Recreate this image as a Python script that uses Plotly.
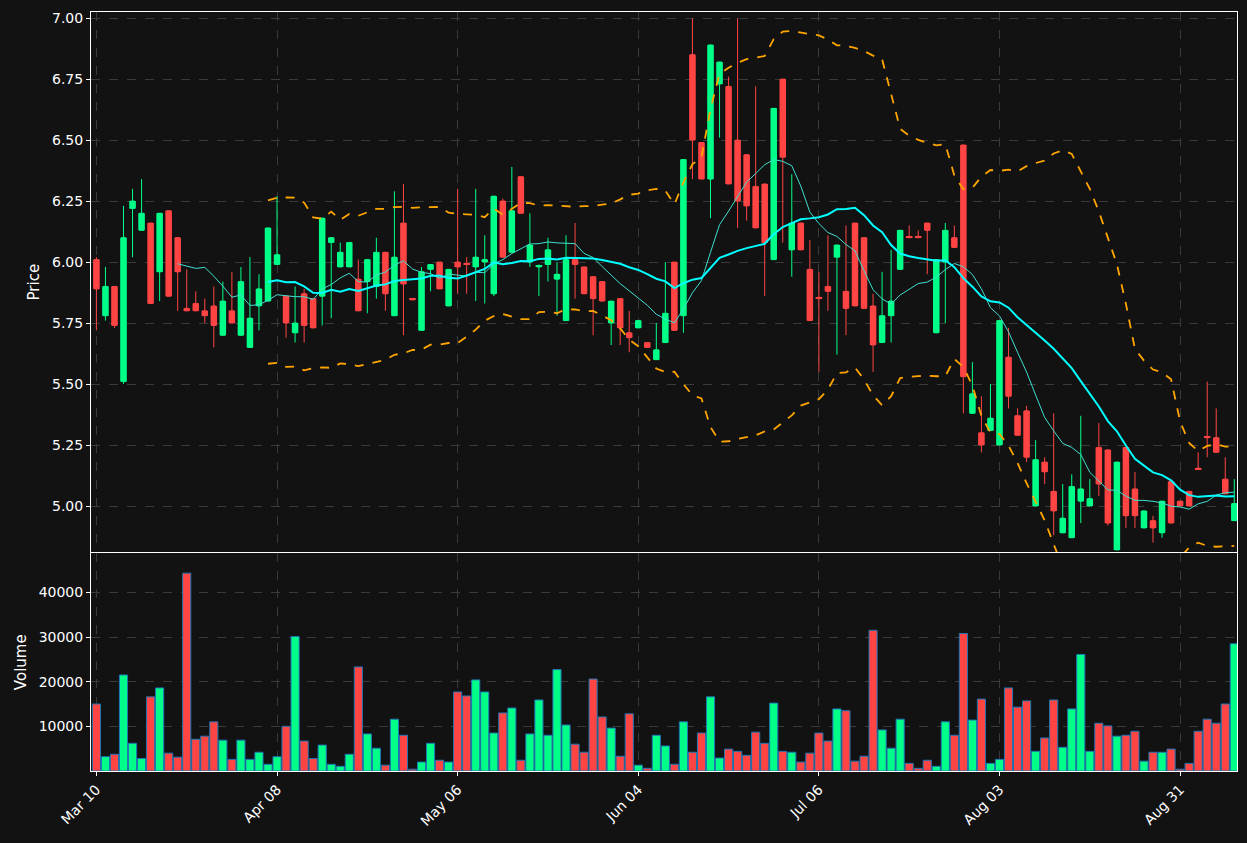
import plotly.graph_objects as go
from plotly.subplots import make_subplots
import pandas as pd

# OHLC, one entry per trading bar
opens = [6.01, 5.78, 5.90, 5.51, 6.22, 6.13, 6.16, 5.96, 6.21, 6.10,
         5.81, 5.83, 5.80, 5.82, 5.70, 5.80, 5.70, 5.65, 5.82, 5.84,
         5.99, 5.86, 5.71, 5.87, 5.85, 5.86, 6.08, 5.98, 5.98, 5.93,
         5.92, 5.90, 6.04, 5.78, 6.16, 5.85, 5.72, 5.97, 6.00, 5.82,
         6.00, 5.995, 5.98, 6.00, 5.87, 6.25, 6.04, 6.35, 6.00, 5.98,
         5.99, 5.93, 5.76, 6.01, 5.98, 5.94, 5.92, 5.75, 5.85, 5.71,
         5.73, 5.67, 5.60, 5.67, 6.00, 5.78, 6.85, 6.49, 6.34, 6.73,
         6.72, 6.50, 6.44, 6.31, 6.32, 6.01, 6.75, 6.05, 6.16, 5.97,
         5.855, 5.90, 6.02, 5.88, 6.16, 6.10, 5.82, 5.67, 5.78, 5.97,
         6.105, 6.105, 6.16, 5.71, 6.00, 6.10, 6.48, 5.38, 5.30, 5.31,
         5.25, 5.61, 5.37, 5.39, 5.00, 5.18, 5.06, 4.89, 4.87, 5.02,
         5.00, 5.24, 5.23, 4.82, 5.24, 5.07, 4.91, 4.94, 4.89, 5.10,
         5.02, 5.06, 5.155, 5.285, 5.28, 5.11, 4.94]
highs = [6.02, 5.98, 5.90, 6.23, 6.30, 6.34, 6.16, 6.20, 6.21, 6.10,
         5.97, 5.88, 5.85, 5.90, 5.92, 5.96, 5.98, 6.02, 5.95, 6.14,
         6.27, 5.86, 5.90, 5.89, 5.85, 6.18, 6.10, 6.08, 6.08, 6.01,
         6.01, 6.10, 6.04, 6.29, 6.32, 5.85, 5.98, 5.99, 6.00, 5.97,
         6.30, 6.02, 6.30, 6.11, 6.27, 6.26, 6.39, 6.35, 6.20, 5.99,
         6.10, 6.00, 6.11, 6.16, 5.98, 5.94, 5.92, 5.84, 5.85, 5.80,
         5.76, 5.67, 5.75, 6.00, 6.00, 6.42, 7.00, 6.49, 6.89, 6.82,
         6.76, 7.00, 6.44, 6.72, 6.32, 6.63, 6.75, 6.36, 6.16, 6.09,
         5.96, 6.11, 6.07, 6.15, 6.16, 6.10, 5.87, 5.96, 6.05, 6.13,
         6.15, 6.13, 6.16, 6.01, 6.16, 6.15, 6.48, 5.59, 5.45, 5.50,
         5.76, 5.73, 5.40, 5.41, 5.27, 5.20, 5.38, 5.09, 5.13, 5.37,
         5.11, 5.34, 5.23, 5.18, 5.24, 5.14, 4.98, 4.96, 5.02, 5.10,
         5.02, 5.06, 5.22, 5.51, 5.40, 5.20, 5.11]
lows = [5.72, 5.76, 5.73, 5.50, 6.02, 6.13, 5.83, 5.84, 5.86, 5.80,
        5.80, 5.80, 5.75, 5.65, 5.70, 5.75, 5.70, 5.65, 5.72, 5.84,
        5.99, 5.69, 5.67, 5.67, 5.73, 5.74, 5.77, 5.98, 5.98, 5.80,
        5.79, 5.85, 5.80, 5.78, 5.70, 5.845, 5.72, 5.88, 5.89, 5.82,
        5.87, 5.87, 5.84, 5.83, 5.86, 6.02, 6.04, 6.20, 5.98, 5.86,
        5.92, 5.78, 5.76, 5.85, 5.87, 5.70, 5.84, 5.66, 5.66, 5.63,
        5.73, 5.65, 5.60, 5.67, 5.72, 5.71, 6.34, 6.34, 6.18, 6.51,
        6.32, 6.14, 6.17, 6.14, 5.86, 6.01, 6.08, 5.94, 6.05, 5.76,
        5.55, 5.80, 5.62, 5.70, 5.82, 5.81, 5.55, 5.67, 5.67, 5.97,
        6.10, 6.10, 5.95, 5.71, 5.75, 6.06, 5.38, 5.38, 5.22, 5.31,
        5.25, 5.40, 5.29, 5.18, 5.00, 5.09, 4.88, 4.89, 4.87, 4.93,
        5.00, 5.04, 4.92, 4.82, 4.91, 4.91, 4.91, 4.85, 4.87, 4.93,
        5.00, 5.00, 5.15, 5.20, 5.22, 5.05, 4.94]
closes = [5.89, 5.90, 5.74, 6.10, 6.25, 6.20, 5.83, 6.20, 5.86, 5.96,
          5.80, 5.80, 5.78, 5.74, 5.84, 5.75, 5.92, 5.77, 5.89, 6.14,
          6.03, 5.75, 5.75, 5.74, 5.73, 6.18, 6.10, 6.04, 6.08, 5.80,
          6.01, 6.04, 5.87, 6.02, 5.91, 5.845, 5.96, 5.99, 5.89, 5.97,
          5.98, 5.99, 6.02, 6.01, 6.27, 6.02, 6.21, 6.20, 6.07, 5.985,
          6.05, 5.95, 6.01, 5.99, 5.87, 5.85, 5.84, 5.84, 5.73, 5.69,
          5.76, 5.65, 5.64, 5.79, 5.72, 6.42, 6.50, 6.34, 6.89, 6.82,
          6.32, 6.25, 6.23, 6.14, 6.08, 6.63, 6.43, 6.16, 6.05, 5.76,
          5.85, 5.88, 6.07, 5.81, 5.82, 5.81, 5.66, 5.78, 5.84, 6.13,
          6.10, 6.10, 6.13, 6.01, 6.13, 6.06, 5.53, 5.46, 5.25, 5.36,
          5.76, 5.45, 5.29, 5.20, 5.19, 5.14, 4.98, 4.95, 5.08, 5.07,
          5.03, 5.09, 4.93, 5.18, 4.96, 4.96, 4.98, 4.91, 5.02, 4.93,
          5.00, 5.00, 5.15, 5.28, 5.22, 5.05, 5.01]
volumes = [15000, 3200, 3750, 21500, 6200, 2800, 16600, 18600, 4000, 3100,
           44300, 7100, 7800, 11000, 6900, 2600, 6900, 2600, 4200, 1500,
           3200, 10000, 30100, 6700, 2800, 5800, 1500, 1050, 3750, 23300,
           8300, 5100, 1300, 11600, 8000, 400, 2000, 6200, 2400, 2000,
           17700, 16800, 20400, 17700, 8500, 13000, 14100, 2400, 8300, 15900,
           8000, 22700, 10300, 6000, 4200, 20600, 12100, 9600, 3300, 12800,
           1300, 600, 8000, 5600, 1500, 11000, 4200, 8500, 16600, 2900,
           4900, 4400, 3500, 8700, 6200, 15200, 4400, 4200, 2000, 4000,
           8500, 6700, 13900, 13500, 2200, 3300, 31500, 9200, 5100, 11600,
           1700, 600, 2400, 1050, 11000, 8000, 30800, 11400, 16100, 1700,
           2600, 18600, 14300, 15700, 4400, 7400, 15900, 5300, 13900, 26100,
           4400, 10700, 10100, 7800, 8000, 8900, 2200, 4200, 4200, 4900,
           400, 1700, 8900, 11600, 10700, 15000, 28500]

tick_pos = [0, 20, 40, 60, 80, 100, 120]
tick_labels = ["Mar 10", "Apr 08", "May 06", "Jun 04", "Jul 06", "Aug 03", "Aug 31"]

UP = "#00ff88"
DOWN = "#ff4444"
BG = "#121212"
GRID = "#3a3a3a"

df = pd.DataFrame({"open": opens, "high": highs, "low": lows,
                   "close": closes, "volume": volumes})
df["x"] = range(len(df))
df["ma10"] = df["close"].rolling(10).mean()
df["ma20"] = df["close"].rolling(20).mean()
std20 = df["close"].rolling(20).std()
df["bb_up"] = df["ma20"] + 2 * std20
df["bb_lo"] = df["ma20"] - 2 * std20
colors = [UP if c >= o else DOWN for o, c in zip(df["open"], df["close"])]

# body drawn as a bar from min(open, close) to max(open, close)
body_base = [min(o, c) for o, c in zip(df["open"], df["close"])]
body_len = [abs(c - o) for o, c in zip(df["open"], df["close"])]

fig = make_subplots(rows=2, cols=1, shared_xaxes=True,
                    row_heights=[0.713, 0.287], vertical_spacing=0.0015)

fig.add_trace(go.Candlestick(
    x=df["x"], open=df["open"], high=df["high"], low=df["low"], close=df["close"],
    increasing=dict(line=dict(color=UP, width=1), fillcolor=UP),
    decreasing=dict(line=dict(color=DOWN, width=1), fillcolor=DOWN),
    whiskerwidth=0, showlegend=False), row=1, col=1)
fig.add_trace(go.Bar(x=df["x"], y=body_len, base=body_base, width=0.72,
                     marker=dict(color=colors, line=dict(width=0)),
                     showlegend=False, hoverinfo="skip"), row=1, col=1)

fig.add_trace(go.Scatter(x=df["x"], y=df["bb_up"], mode="lines",
                         line=dict(color="orange", width=1.8, dash="dash"),
                         showlegend=False, hoverinfo="skip"), row=1, col=1)
fig.add_trace(go.Scatter(x=df["x"], y=df["bb_lo"], mode="lines",
                         line=dict(color="orange", width=1.8, dash="dash"),
                         showlegend=False, hoverinfo="skip"), row=1, col=1)
fig.add_trace(go.Scatter(x=df["x"], y=df["ma10"], mode="lines",
                         line=dict(color="#40e0d0", width=1),
                         showlegend=False), row=1, col=1)
fig.add_trace(go.Scatter(x=df["x"], y=df["ma20"], mode="lines",
                         line=dict(color="#00ffff", width=2),
                         showlegend=False), row=1, col=1)

fig.add_trace(go.Bar(x=df["x"], y=df["volume"],
                     marker=dict(color=colors, line=dict(color="#1f77b4", width=1)),
                     width=0.9, showlegend=False), row=2, col=1)

axis_common = dict(showgrid=True, gridcolor=GRID, griddash="dash", gridwidth=1,
                   showline=True, linecolor="white", linewidth=1, mirror=True,
                   zeroline=False, tickfont=dict(color="white", size=14,
                                                 family="DejaVu Sans"))

fig.update_xaxes(**axis_common, range=[-0.6, 126.3], tickvals=tick_pos,
                 ticktext=tick_labels, rangeslider_visible=False)
fig.update_xaxes(showticklabels=False, ticks="", row=1, col=1)
fig.update_xaxes(tickangle=-45, ticks="outside", tickcolor="white", ticklen=4,
                 row=2, col=1)

fig.update_yaxes(**axis_common, row=1, col=1, range=[4.81, 7.025],
                 tickvals=[5.0, 5.25, 5.5, 5.75, 6.0, 6.25, 6.5, 6.75, 7.0],
                 tickformat=".2f", ticks="outside", tickcolor="white", ticklen=4,
                 title=dict(text="Price", font=dict(color="white", size=15),
                            standoff=8))
fig.update_yaxes(**axis_common, row=2, col=1, range=[0, 48700],
                 tickvals=[10000, 20000, 30000, 40000], tickformat="d",
                 ticks="outside", tickcolor="white", ticklen=4,
                 title=dict(text="Volume", font=dict(color="white", size=15),
                            standoff=8))

fig.update_layout(
    width=1247, height=843,
    paper_bgcolor=BG, plot_bgcolor=BG,
    margin=dict(l=91, r=10, t=12, b=72),
    bargap=0.1, barmode="overlay",
    font=dict(family="DejaVu Sans", color="white"),
)

fig.write_html("out.html", config={"displayModeBar": False},
               post_script="document.body.style.margin='0';"
                           "document.body.style.background='#121212';")
